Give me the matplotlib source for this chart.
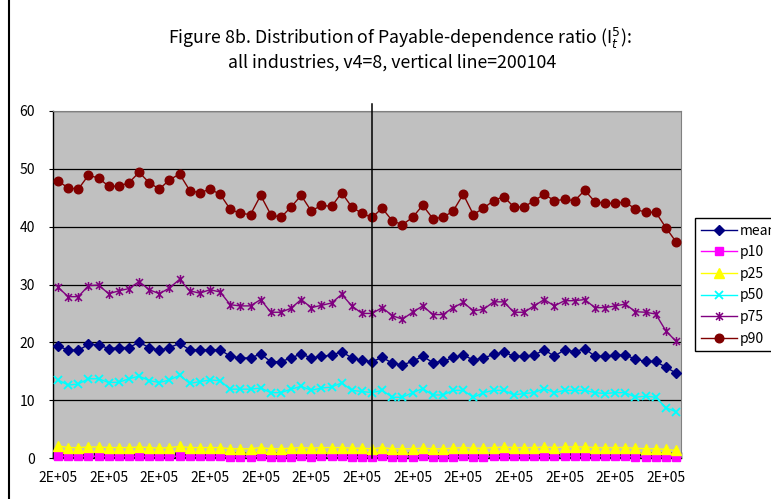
import numpy as np
import matplotlib
matplotlib.use("Agg")
import matplotlib.pyplot as plt
from matplotlib.path import Path
from matplotlib.lines import Line2D

plt.rcParams['font.family'] = ['Noto Sans CJK JP', 'DejaVu Sans']
plt.rcParams['mathtext.fontset'] = 'dejavusans'

# Data
mean = [19.3, 18.7, 18.6, 19.65, 19.6, 18.9, 19.1, 19.1, 20.0, 19.1, 18.6, 19.1, 19.8, 18.7, 18.7, 18.7,
        18.7, 17.6, 17.3, 17.3, 18.0, 16.65, 16.65, 17.3, 18.0, 17.3, 17.6, 17.75, 18.4, 17.3, 16.9, 16.65,
        17.4, 16.4, 16.1, 16.7, 17.6, 16.5, 16.7, 17.4, 17.8, 16.95, 17.3, 17.9, 18.3, 17.6, 17.6,
        17.8, 18.7, 17.6, 18.7, 18.4, 18.9, 17.6, 17.6, 17.8, 17.8, 17.1, 16.7, 16.7, 15.7, 14.7]
p10 = [0.3, 0.3, 0.3, 0.3, 0.3, 0.3, 0.3, 0.3, 0.3, 0.3, 0.3, 0.3, 0.3, 0.3, 0.3, 0.3,
       0.3, 0.2, 0.2, 0.2, 0.3, 0.2, 0.2, 0.2, 0.3, 0.2, 0.3, 0.3, 0.3, 0.2, 0.2, 0.2,
       0.3, 0.2, 0.2, 0.2, 0.3, 0.2, 0.2, 0.2, 0.3, 0.2, 0.2, 0.3, 0.3, 0.3, 0.3,
       0.3, 0.3, 0.3, 0.3, 0.3, 0.3, 0.3, 0.3, 0.3, 0.3, 0.2, 0.2, 0.2, 0.2, 0.2]
p25 = [2.1, 1.8, 1.8, 1.9, 1.9, 1.8, 1.8, 1.8, 1.9, 1.8, 1.7, 1.8, 2.0, 1.8, 1.8, 1.8,
       1.8, 1.6, 1.6, 1.6, 1.8, 1.6, 1.6, 1.7, 1.8, 1.7, 1.8, 1.8, 1.8, 1.7, 1.7, 1.6,
       1.8, 1.6, 1.6, 1.6, 1.7, 1.6, 1.6, 1.7, 1.8, 1.7, 1.7, 1.8, 1.9, 1.8, 1.8,
       1.8, 1.9, 1.8, 1.9, 1.9, 1.9, 1.8, 1.8, 1.8, 1.8, 1.7, 1.6, 1.6, 1.5, 1.3]
p50 = [13.5, 12.6, 12.8, 13.7, 13.7, 13.05, 13.1, 13.7, 14.15, 13.4, 13.05, 13.5, 14.3, 12.9, 13.2, 13.5,
       13.35, 11.9, 11.9, 11.9, 12.1, 11.3, 11.3, 11.9, 12.4, 11.7, 12.1, 12.25, 13.0, 11.7, 11.5, 11.3,
       11.7, 10.5, 10.5, 11.3, 12.0, 10.9, 10.9, 11.7, 11.7, 10.5, 11.3, 11.7, 11.7, 10.9, 11.15,
       11.3, 12.0, 11.3, 11.7, 11.7, 11.7, 11.3, 11.15, 11.3, 11.3, 10.5, 10.7, 10.5, 8.7, 8.0]
p75 = [29.5, 27.9, 27.9, 29.8, 29.9, 28.4, 28.9, 29.3, 30.5, 29.1, 28.4, 29.4, 30.9, 28.9, 28.5, 29.1,
       28.7, 26.5, 26.3, 26.3, 27.4, 25.2, 25.2, 25.9, 27.4, 26.0, 26.4, 26.8, 28.3, 26.3, 25.0, 25.0,
       26.0, 24.6, 24.0, 25.2, 26.3, 24.8, 24.8, 26.0, 26.9, 25.45, 25.7, 27.0, 27.0, 25.2, 25.2,
       26.3, 27.4, 26.3, 27.2, 27.2, 27.4, 26.0, 26.0, 26.3, 26.6, 25.3, 25.2, 24.9, 22.0, 20.2]
p90 = [47.9, 46.7, 46.5, 48.9, 48.4, 47.0, 47.0, 47.6, 49.4, 47.6, 46.5, 48.1, 49.1, 46.25, 45.85, 46.5,
       45.6, 43.0, 42.3, 42.1, 45.4, 42.1, 41.6, 43.4, 45.4, 42.7, 43.7, 43.5, 45.85, 43.4, 42.3, 41.6,
       43.2, 41.0, 40.35, 41.6, 43.7, 41.4, 41.6, 42.7, 45.6, 42.1, 43.2, 44.5, 45.2, 43.4, 43.4,
       44.5, 45.6, 44.5, 44.7, 44.5, 46.3, 44.3, 44.05, 44.05, 44.3, 43.0, 42.5, 42.5, 39.85, 37.4]
vline_idx = 31  # 200104
tick_label = "2E+05"

x = np.arange(len(mean))

# Excel-like asterisk marker: an x with a vertical bar
star = Path([(-1, -1), (1, 1), (-1, 1), (1, -1), (0, -1.3), (0, 1.3)],
            [Path.MOVETO, Path.LINETO, Path.MOVETO, Path.LINETO, Path.MOVETO, Path.LINETO])

series = [
    ("mean", mean, "#000080", "D", 5.0, 1.0),
    ("p10", p10, "#FF00FF", "s", 5.5, 1.0),
    ("p25", p25, "#FFFF00", "^", 6.5, 1.0),
    ("p50", p50, "#00FFFF", "x", 6.0, 1.3),
    ("p75", p75, "#800080", star, 6.5, 1.1),
    ("p90", p90, "#800000", "o", 6.2, 1.0),
]

W, H = 771, 499
fig = plt.figure(figsize=(W / 100, H / 100), dpi=100)
ax = fig.add_axes([53 / W, 1 - 458 / H, (681 - 53) / W, (458 - 111) / H])
ax.set_facecolor("#C0C0C0")

for name, vals, col, mk, ms, mew in series:
    ax.plot(x, vals, color=col, lw=1.0, marker=mk, markersize=ms,
            markerfacecolor=col, markeredgecolor=col, markeredgewidth=mew,
            label=name, clip_on=False, zorder=3)

ax.axvline(vline_idx, ymin=0, ymax=1.02, color="black", lw=1.1, clip_on=False, zorder=4)

ax.set_xlim(-0.5, len(x) - 0.5)
ax.set_ylim(0, 60)
ax.set_yticks(np.arange(0, 61, 10))
ax.yaxis.grid(True, color="black", lw=0.9)
ax.set_axisbelow(True)

major = np.arange(0, len(x), 5)
ax.set_xticks(major)
ax.set_xticklabels([tick_label] * len(major))
ax.set_xticks(np.arange(-0.5, len(x), 1), minor=True)
ax.tick_params(axis="x", which="major", length=0, pad=9, labelsize=10)
ax.tick_params(axis="x", which="minor", direction="in", length=4, width=1, color="black")
ax.tick_params(axis="y", length=3, pad=10, labelsize=10)

for s in ["top", "right"]:
    ax.spines[s].set_color("#808080")
for s in ["left", "bottom"]:
    ax.spines[s].set_color("black")
    ax.spines[s].set_linewidth(1.0)

# title
fig.text(400 / W, 1 - 38 / H, "Figure 8b. Distribution of Payable-dependence ratio (I$^{5}_{t}$):",
         ha="center", va="center", fontsize=12.8)
fig.text(392 / W, 1 - 63 / H, "all industries, v4=8, vertical line=200104",
         ha="center", va="center", fontsize=12.8)

# chart area border on the left
fig.add_artist(Line2D([9 / W, 9 / W], [0, 1], transform=fig.transFigure, color="black", lw=1.5))

leg = fig.legend(loc="upper left", bbox_to_anchor=(695 / W, 1 - 218 / H), borderaxespad=0,
                 fontsize=10, frameon=True, fancybox=False, framealpha=1, edgecolor="black",
                 handlelength=2.6, handletextpad=0.25, labelspacing=0.55, borderpad=0.4)
leg.get_frame().set_linewidth(1.0)

fig.savefig("out.png", dpi=100)
